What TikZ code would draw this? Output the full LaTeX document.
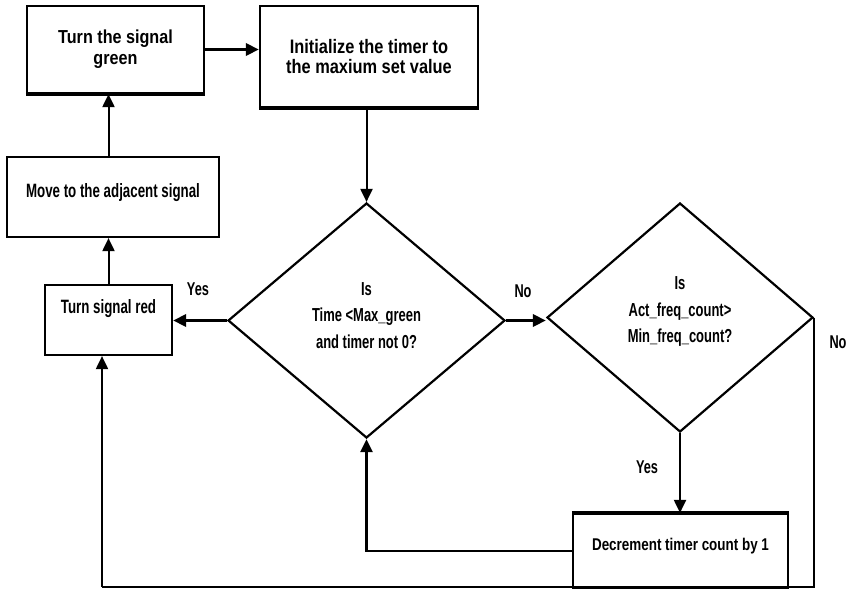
\documentclass[tikz,border=0pt]{standalone}
\usepackage{fontspec}
\setmainfont{Liberation Sans}
% condensed variants of the same face
\newfontfamily\fwide[FakeStretch=0.86]{Liberation Sans}
\newfontfamily\fmid[FakeStretch=0.84]{Liberation Sans}
\newfontfamily\fdec[FakeStretch=0.79]{Liberation Sans}
\newfontfamily\fnar[FakeStretch=0.69]{Liberation Sans}
\usetikzlibrary{shapes.geometric,arrows.meta}

\begin{document}
\begin{tikzpicture}[x=1pt,y=-1pt,
  box/.style={draw, line width=2.2pt, rectangle, inner sep=0pt, align=center},
  decision/.style={draw, line width=2.2pt, diamond, inner sep=0pt, align=center,
    font=\fnar\bfseries\fontsize{18.8}{26.5}\selectfont},
  flow/.style={line width=2pt, -{Triangle[length=13pt,width=12pt]}},
  heavy/.style={flow, line width=3.5pt},
  lbl/.style={font=\fnar\bfseries\fontsize{18.5}{20}\selectfont}
]
\useasboundingbox (0,0) rectangle (850,590);

% process boxes
\node[box, minimum width=177pt, minimum height=87pt,
  font=\fwide\bfseries\fontsize{18.8}{21}\selectfont]
  (green) at (115.5,49.5) {Turn the signal\\green};
\node[box, minimum width=218pt, minimum height=101pt,
  font=\fmid\bfseries\fontsize{19.5}{20.5}\selectfont]
  (init) at (369,56.5) {Initialize the timer to\\the maxium set value};
\node[box, minimum width=212pt, minimum height=80pt, text depth=14pt,
  font=\fnar\bfseries\fontsize{19.3}{20}\selectfont]
  (move) at (113,197) {Move to the adjacent signal};
\node[box, minimum width=127pt, minimum height=70pt, text depth=28pt,
  font=\fnar\bfseries\fontsize{19.3}{20}\selectfont]
  (red) at (108.5,320) {Turn signal red};
\node[box, minimum width=215pt, minimum height=74pt, text depth=14pt,
  font=\fdec\bfseries\fontsize{17}{20}\selectfont]
  (dec) at (680.5,551) {Decrement timer count by 1};

% heavier edges on some boxes
\draw[line width=3.4pt] (dec.north west) -- (dec.north east);
\draw[line width=3.2pt] (green.south west) -- (green.south east);
\draw[line width=3.2pt] (init.south west) -- (init.south east);

% decisions
\node[decision, minimum width=277pt, minimum height=235pt, text depth=10pt]
  (timeq) at (366.5,320.5) {Is\\Time <Max\_green\\and timer not 0?};
\node[decision, minimum width=266pt, minimum height=229pt, text depth=15pt]
  (freqq) at (680,317.5) {Is\\Act\_freq\_count>\\Min\_freq\_count?};

% corner of the return line
\coordinate (corner) at (102,587);

% connectors
\draw[heavy] (green.east) -- (green.east -| init.west);
\draw[flow] (timeq.north |- init.south) -- (timeq.north);
\draw[heavy] (timeq.west) -- (timeq.west -| red.east);
\draw[heavy] (timeq.east) -- (timeq.east -| freqq.west);
\draw[flow] (red.north) -- (red.north |- move.south);
\draw[flow] (red.north |- move.north) -- (red.north |- green.south);
\draw[flow] (freqq.south) -- (freqq.south |- dec.north);
\draw[flow, line width=2.6pt] (dec.west) -| (timeq.south);
\draw[line width=1.6pt] (freqq.east) |- (corner);
\draw[flow] (corner) -- (corner |- red.south);

% branch labels
\node[lbl] (yes1) at (198,289) {Yes};
\node[lbl] (no1) at (523,291) {No};
\node[lbl] (no2) at (838,342) {No};
\node[lbl] (yes2) at (647,467) {Yes};
\end{tikzpicture}
\end{document}
